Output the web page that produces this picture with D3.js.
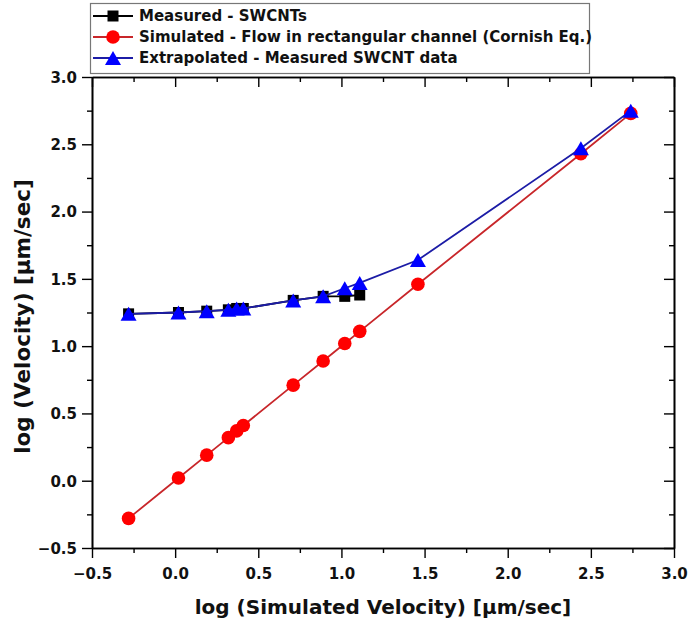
<!DOCTYPE html>
<html>
<head>
<meta charset="utf-8">
<script src="https://cdn.jsdelivr.net/npm/d3@7"></script>
<style>
  html, body { margin: 0; padding: 0; background: #fff; }
  svg { display: block; }
  text { font-family: "DejaVu Sans", "Liberation Sans", Arial, sans-serif; font-weight: bold; fill: #111; }
</style>
</head>
<body>
<svg id="chart" width="691" height="630"></svg>
<script>
// ---- data ----
const measuredX = [-0.28, 0.02, 0.19, 0.32, 0.37, 0.41, 0.71, 0.89, 1.02, 1.11];
const measuredY = [1.24, 1.25, 1.26, 1.27, 1.28, 1.28, 1.34, 1.37, 1.37, 1.38];

const simulatedX = [-0.28, 0.02, 0.19, 0.32, 0.37, 0.41, 0.71, 0.89, 1.02, 1.11, 1.46, 2.44, 2.74];
const simulatedY = [-0.28, 0.02, 0.19, 0.32, 0.37, 0.41, 0.71, 0.89, 1.02, 1.11, 1.46, 2.43, 2.73];

const extrapolatedX = [-0.28, 0.02, 0.19, 0.32, 0.37, 0.41, 0.71, 0.89, 1.02, 1.11, 1.46, 2.44, 2.74];
const extrapolatedY = [1.24, 1.25, 1.26, 1.27, 1.28, 1.28, 1.34, 1.37, 1.43, 1.47, 1.64, 2.47, 2.75];

const xTickValues = [-0.5, 0.0, 0.5, 1.0, 1.5, 2.0, 2.5, 3.0];
const yTickValues = [-0.5, 0.0, 0.5, 1.0, 1.5, 2.0, 2.5, 3.0];
const minorTickValues = [-0.25, 0.25, 0.75, 1.25, 1.75, 2.25, 2.75];

const seriesNames = [
  "Measured - SWCNTs",
  "Simulated - Flow in rectangular channel (Cornish Eq.)",
  "Extrapolated - Measured SWCNT data"
];
const xTitle = "log (Simulated Velocity) [µm/sec]";
const yTitle = "log (Velocity) [µm/sec]";

// ---- layout ----
const L = 92, R = 674, T = 77, B = 548;
const svg = d3.select("#chart");
const x = d3.scaleLinear().domain([-0.5, 3.0]).range([L, R]);
const y = d3.scaleLinear().domain([-0.5, 3.0]).range([B, T]);
const fmt = d3.format(".1f");

function styleAxis(g) {
  g.selectAll("path.domain").attr("stroke", "#000").attr("stroke-width", 1.6);
  g.selectAll(".tick line").attr("stroke", "#000").attr("stroke-width", 1.4);
}
// bottom
const gx = svg.append("g").attr("transform", `translate(0,${B})`)
  .call(d3.axisBottom(x).tickValues(xTickValues).tickFormat(fmt).tickSize(10).tickSizeOuter(0));
styleAxis(gx);
gx.selectAll(".tick text").attr("font-size", 15).attr("y", 20).attr("dy", "0.71em")
  .attr("font-family", "DejaVu Sans").attr("font-weight", "bold").attr("fill", "#111");
const gxm = svg.append("g").attr("transform", `translate(0,${B})`)
  .call(d3.axisBottom(x).tickValues(minorTickValues).tickFormat("").tickSize(5).tickSizeOuter(0));
styleAxis(gxm);
// left
const gy = svg.append("g").attr("transform", `translate(${L},0)`)
  .call(d3.axisLeft(y).tickValues(yTickValues).tickFormat(fmt).tickSize(10).tickSizeOuter(0));
styleAxis(gy);
gy.selectAll(".tick text").attr("font-size", 15).attr("x", -15).attr("dy", "0.36em")
  .attr("font-family", "DejaVu Sans").attr("font-weight", "bold").attr("fill", "#111");
const gym = svg.append("g").attr("transform", `translate(${L},0)`)
  .call(d3.axisLeft(y).tickValues(minorTickValues).tickFormat("").tickSize(5).tickSizeOuter(0));
styleAxis(gym);
// top (inward)
const gt = svg.append("g").attr("transform", `translate(0,${T})`)
  .call(d3.axisBottom(x).tickValues(xTickValues).tickFormat("").tickSize(10).tickSizeOuter(0));
styleAxis(gt);
const gtm = svg.append("g").attr("transform", `translate(0,${T})`)
  .call(d3.axisBottom(x).tickValues(minorTickValues).tickFormat("").tickSize(5).tickSizeOuter(0));
styleAxis(gtm);
// right (inward)
const gr = svg.append("g").attr("transform", `translate(${R},0)`)
  .call(d3.axisLeft(y).tickValues(yTickValues).tickFormat("").tickSize(10).tickSizeOuter(0));
styleAxis(gr);
const grm = svg.append("g").attr("transform", `translate(${R},0)`)
  .call(d3.axisLeft(y).tickValues(minorTickValues).tickFormat("").tickSize(5).tickSizeOuter(0));
styleAxis(grm);

// titles
svg.append("text").attr("x", (L + R) / 2).attr("y", 614).attr("text-anchor", "middle")
  .attr("font-size", 20).text(xTitle);
svg.append("text").attr("transform", `translate(30,${(T + B) / 2 + 4}) rotate(-90)`)
  .attr("text-anchor", "middle").attr("font-size", 21.5).text(yTitle);

// marker shapes
const squarePath = s => `M${-s/2},${-s/2}h${s}v${s}h${-s}Z`;
const triPath = (w, h) => `M0,${-h/2}L${w/2},${h/2}L${-w/2},${h/2}Z`;

const series = [
  { xs: measuredX, ys: measuredY, line: "#000000", fill: "#000000", shape: "square" },
  { xs: simulatedX, ys: simulatedY, line: "#c8262a", fill: "#ff0000", shape: "circle" },
  { xs: extrapolatedX, ys: extrapolatedY, line: "#1c1ca6", fill: "#0000ff", shape: "triangle" }
];

function drawMarker(g, shape, fill) {
  if (shape === "square") g.append("path").attr("d", squarePath(11)).attr("fill", fill);
  else if (shape === "circle") g.append("circle").attr("r", 6.8).attr("fill", fill);
  else g.append("path").attr("d", triPath(16, 14)).attr("fill", fill);
}

const lineGen = d3.line().x(d => x(d[0])).y(d => y(d[1]));
series.forEach(s => {
  const pts = s.xs.map((v, i) => [v, s.ys[i]]);
  svg.append("path").datum(pts).attr("d", lineGen)
    .attr("fill", "none").attr("stroke", s.line).attr("stroke-width", 1.8);
  pts.forEach(p => {
    const g = svg.append("g").attr("transform", `translate(${x(p[0])},${y(p[1])})`);
    drawMarker(g, s.shape, s.fill);
  });
});

// legend
const leg = svg.append("g");
leg.append("rect").attr("x", 90.5).attr("y", 3.5).attr("width", 499).attr("height", 70)
  .attr("fill", "#fff").attr("stroke", "#777").attr("stroke-width", 1.2);
const rowY = [16, 37, 58];
series.forEach((s, i) => {
  leg.append("line").attr("x1", 93).attr("x2", 133).attr("y1", rowY[i]).attr("y2", rowY[i])
    .attr("stroke", s.line).attr("stroke-width", 1.8);
  const g = leg.append("g").attr("transform", `translate(113,${rowY[i]})`);
  drawMarker(g, s.shape, s.fill);
  leg.append("text").attr("x", 139).attr("y", rowY[i]).attr("dy", "0.36em")
    .attr("font-size", 15).text(seriesNames[i]);
});
</script>
</body>
</html>
